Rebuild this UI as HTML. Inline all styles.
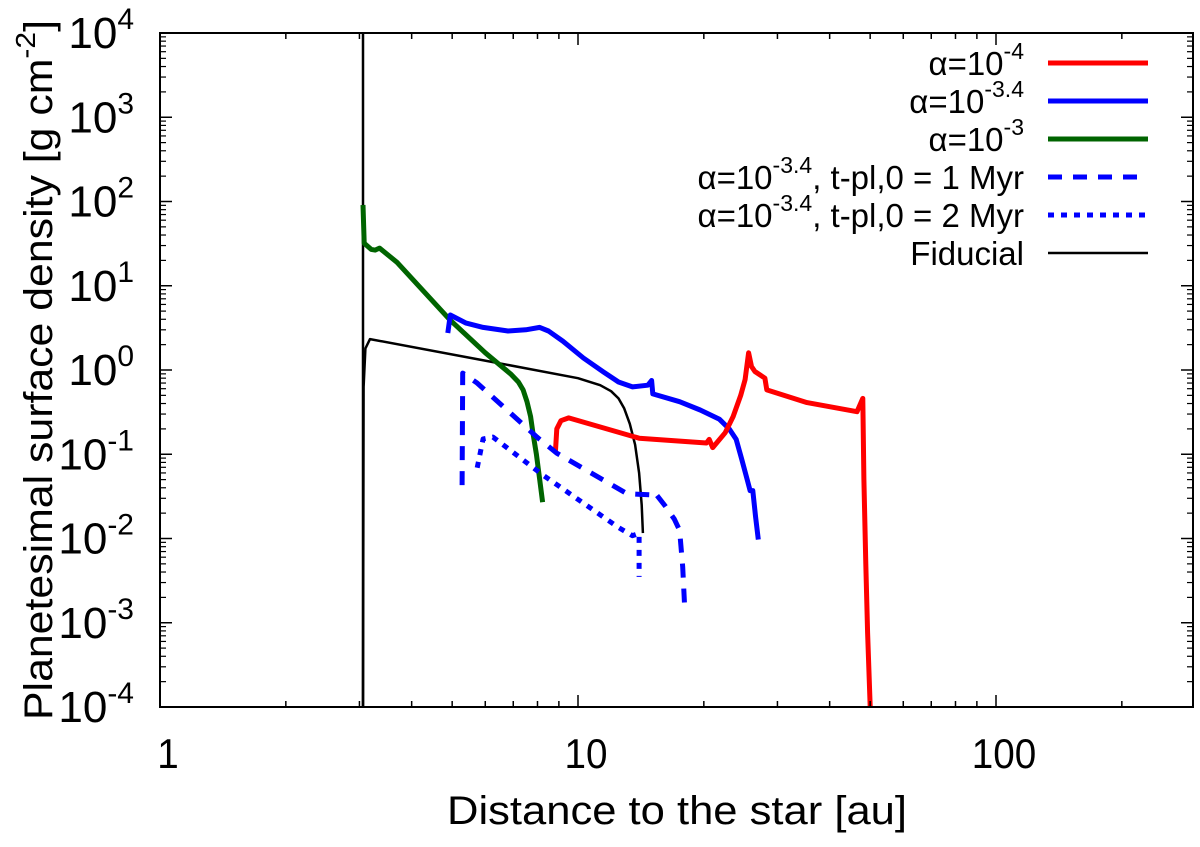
<!DOCTYPE html>
<html><head><meta charset="utf-8"><style>
html,body{margin:0;padding:0;background:#fff;}
svg{display:block;font-family:"Liberation Sans",Arial,sans-serif;}
</style></head><body>
<svg id="chart" width="1200" height="847" viewBox="0 0 1200 847" xmlns="http://www.w3.org/2000/svg">
<g id="marks"></g>
<g id="axes"></g>
<g id="legend"></g>
</svg>
<script>
// ---- data ----
const xTickValues = [1, 10, 100];
const xTickLabels = ["1", "10", "100"];
const yTickExps = [4, 3, 2, 1, 0, -1, -2, -3, -4];

const fidVertX = [3.06, 3.06];
const fidVertY = [1e-4, 1e4];
const fidX = [3.06, 3.07, 3.1, 3.18, 6.26, 10.0, 11.3, 12.0, 12.5, 12.9, 13.3, 13.7, 14.0, 14.2, 14.3];
const fidY = [1e-4, 0.63, 1.8, 2.33, 1.24, 0.8, 0.66, 0.56, 0.46, 0.35, 0.23, 0.13, 0.06, 0.025, 0.0116];

const greenX = [3.06, 3.08, 3.2, 3.27, 3.35, 3.69, 4.94, 6.0, 6.5, 6.9, 7.2, 7.39, 7.55, 7.7, 7.8, 7.95, 8.1, 8.23];
const greenY = [91, 32, 27, 26.5, 28, 19, 3.93, 1.6, 1.15, 0.9, 0.72, 0.58, 0.42, 0.28, 0.18, 0.1, 0.05, 0.027];

const blueX = [4.88, 4.95, 5.4, 5.93, 6.8, 7.5, 8.1, 8.5, 9.2, 10.3, 11.5, 12.5, 13.5, 14.7, 15.0, 15.1, 17.5, 19.6, 21.8, 23.0, 23.9, 24.6, 25.4, 25.8, 26.2, 26.6, 27.0];
const blueY = [2.75, 4.5, 3.6, 3.2, 2.9, 3.0, 3.2, 2.9, 2.2, 1.39, 0.95, 0.72, 0.63, 0.66, 0.75, 0.52, 0.42, 0.335, 0.26, 0.2, 0.15, 0.09, 0.05, 0.037, 0.037, 0.018, 0.0097];

const redX = [8.83, 8.9, 9.1, 9.5, 14.0, 20.3, 20.6, 21.0, 22.5, 23.5, 24.5, 25.1, 25.6, 26.0, 26.5, 28.0, 28.3, 35.3, 46.5, 48.0, 48.3, 48.8, 49.3, 50.0];
const redY = [0.106, 0.2, 0.25, 0.27, 0.155, 0.136, 0.15, 0.12, 0.18, 0.28, 0.5, 0.77, 1.6, 1.1, 0.96, 0.8, 0.58, 0.41, 0.32, 0.46, 0.05, 0.005, 0.00076, 0.0001];

const dashX = [5.28, 5.3, 5.74, 7.98, 8.9, 13.1, 14.9, 15.2, 16.2, 17.0, 17.5, 17.8, 18.0];
const dashY = [0.043, 0.92, 0.70, 0.16, 0.103, 0.034, 0.033, 0.036, 0.024, 0.017, 0.0125, 0.0046, 0.0015];

const dotX = [5.74, 5.93, 6.26, 8.23, 12.5, 13.5, 14.0, 14.0];
const dotY = [0.069, 0.152, 0.16, 0.057, 0.0135, 0.0108, 0.0115, 0.0035];

// ---- axis functions ----
const L = 160, R = 1193, T = 33, B = 707;
const decX = 418, decY = (B - T) / 8;
function sx(v) { return L + decX * Math.log10(v); }
function sy(v) { return T + decY * (4 - Math.log10(v)); }

const NS = "http://www.w3.org/2000/svg";
function mk(tag, attrs, parent) {
  const e = document.createElementNS(NS, tag);
  for (const k in attrs) e.setAttribute(k, attrs[k]);
  parent.appendChild(e);
  return e;
}
const marks = document.getElementById('marks');
const axes = document.getElementById('axes');
const legend = document.getElementById('legend');

function series(xs, ys, color, w, dash, name) {
  const d = xs.map((x, i) => (i ? 'L' : 'M') + sx(x).toFixed(1) + ',' + sy(ys[i]).toFixed(1)).join(' ');
  const p = mk('path', {d: d, fill: 'none', stroke: color, 'stroke-width': w, 'stroke-linejoin': 'round'}, marks);
  if (dash) p.setAttribute('stroke-dasharray', dash);
  
  
}
series(fidVertX, fidVertY, '#000', 2.5, null, 'fiducial-vertical-line');
series(fidX, fidY, '#000', 2.5, null, 'fiducial-line');
series(greenX, greenY, '#006400', 5, null, 'alpha-1e-3-line');
series(blueX, blueY, '#0000ff', 5, null, 'alpha-1e-3.4-line');
series(redX, redY, '#ff0000', 5, null, 'alpha-1e-4-line');
series(dashX, dashY, '#0000ff', 5, '14,11', 'alpha-1e-3.4-1myr-line');
series(dotX, dotY, '#0000ff', 5, '6,7', 'alpha-1e-3.4-2myr-line');

// frame
const fr = mk('rect', {x: L, y: T, width: R - L, height: B - T, fill: 'none', stroke: '#000', 'stroke-width': 2}, axes);



// x ticks
for (let d = 0; d < 3; d++) {
  for (let m = 1; m <= 9; m++) {
    const v = Math.pow(10, d) * m;
    if (sx(v) > R) break;
    const len = m === 1 ? 12 : 6;
    const X = sx(v);
    mk('line', {x1: X, y1: B, x2: X, y2: B - len, stroke: '#000', 'stroke-width': 1.5}, axes);
    mk('line', {x1: X, y1: T, x2: X, y2: T + len, stroke: '#000', 'stroke-width': 1.5}, axes);
  }
}
xTickValues.forEach((v, i) => {
  const t = mk('text', {x: sx(v) + 8, y: 768, 'font-size': 42, 'text-anchor': 'middle', transform: 'translate(' + (sx(v) + 8) * 0.08 + ',0) scale(0.92,1)'}, axes);
  t.textContent = xTickLabels[i];
  
  
});
// y ticks
yTickExps.forEach(e => {
  const Y = sy(Math.pow(10, e));
  mk('line', {x1: L, y1: Y, x2: L + 12, y2: Y, stroke: '#000', 'stroke-width': 1.5}, axes);
  mk('line', {x1: R, y1: Y, x2: R - 12, y2: Y, stroke: '#000', 'stroke-width': 1.5}, axes);
  if (e > -4) {
    for (let m = 2; m <= 9; m++) {
      const y2 = sy(Math.pow(10, e - 1) * m);
      mk('line', {x1: L, y1: y2, x2: L + 6, y2: y2, stroke: '#000', 'stroke-width': 1.2}, axes);
      mk('line', {x1: R, y1: y2, x2: R - 6, y2: y2, stroke: '#000', 'stroke-width': 1.2}, axes);
    }
  }
  const t = mk('text', {x: 134, y: Y + 15, 'font-size': 44, 'text-anchor': 'end'}, axes);
  const a = mk('tspan', {}, t); a.textContent = '10';
  const b = mk('tspan', {'font-size': 30, dy: -19}, t); b.textContent = String(e);
  
  
});

// axis titles
const xt = mk('text', {x: 677, y: 824, 'font-size': 40, 'text-anchor': 'middle', textLength: 460, lengthAdjust: 'spacingAndGlyphs'}, axes);
xt.textContent = 'Distance to the star [au]';


const yt = mk('text', {x: 0, y: 0, 'font-size': 40, 'text-anchor': 'middle', transform: 'translate(52,370) rotate(-90)', textLength: 700, lengthAdjust: 'spacingAndGlyphs'}, axes);
const y1 = mk('tspan', {}, yt); y1.textContent = 'Planetesimal surface density [g cm';
const y2 = mk('tspan', {'font-size': 28, dy: -17}, yt); y2.textContent = '-2';
const y3 = mk('tspan', {dy: 17}, yt); y3.textContent = ']';



// legend
const legLabels = [['α=10', '-4', ''], ['α=10', '-3.4', ''], ['α=10', '-3', ''], ['α=10', '-3.4', ', t-pl,0 = 1 Myr'], ['α=10', '-3.4', ', t-pl,0 = 2 Myr'], ['Fiducial', '', '']];
const legColors = ['#ff0000', '#0000ff', '#006400', '#0000ff', '#0000ff', '#000'];
const legDash = [null, null, null, '14,11', '6,7', null];
const legW = [5, 5, 5, 5, 5, 2.5];
const legRowY = [63, 101, 139, 177, 215, 253];
legLabels.forEach((lab, i) => {
  const g = mk('g', {}, legend);
  
  
  const t = mk('text', {x: 1024, y: legRowY[i] + 12, 'font-size': 33, 'text-anchor': 'end'}, g);
  const a = mk('tspan', {}, t); a.textContent = lab[0];
  if (lab[1]) {
    const b = mk('tspan', {'font-size': 23, dy: -16}, t); b.textContent = lab[1];
    if (lab[2]) { const c = mk('tspan', {dy: 16}, t); c.textContent = lab[2]; }
  }
  const ln = mk('line', {x1: 1048, y1: legRowY[i], x2: 1148, y2: legRowY[i], stroke: legColors[i], 'stroke-width': legW[i]}, g);
  if (legDash[i]) ln.setAttribute('stroke-dasharray', legDash[i]);
});
</script>
</body></html>
